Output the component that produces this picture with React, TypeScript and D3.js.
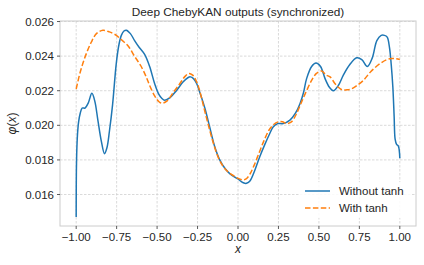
import React from "react";
import * as d3 from "d3";

const title = "Deep ChebyKAN outputs (synchronized)";
const xTicks = [-1.0, -0.75, -0.5, -0.25, 0.0, 0.25, 0.5, 0.75, 1.0];
const yTicks = [0.016, 0.018, 0.02, 0.022, 0.024, 0.026];
const seriesNames = ["Without tanh", "With tanh"];

const blueX = [-1.0, -0.998, -0.993, -0.985, -0.975, -0.963, -0.945, -0.925, -0.903, -0.885, -0.866, -0.845, -0.825, -0.81, -0.794, -0.775, -0.752, -0.735, -0.721, -0.705, -0.69, -0.665, -0.639, -0.61, -0.577, -0.546, -0.515, -0.49, -0.47, -0.453, -0.42, -0.381, -0.34, -0.31, -0.294, -0.275, -0.255, -0.236, -0.205, -0.175, -0.145, -0.113, -0.08, -0.051, -0.02, 0.0, 0.02, 0.042, 0.053, 0.075, 0.104, 0.135, 0.166, 0.195, 0.217, 0.245, 0.279, 0.321, 0.355, 0.383, 0.405, 0.424, 0.455, 0.482, 0.51, 0.538, 0.565, 0.589, 0.62, 0.651, 0.69, 0.734, 0.765, 0.799, 0.83, 0.858, 0.885, 0.905, 0.922, 0.936, 0.947, 0.957, 0.965, 0.971, 0.98, 0.991, 1.0];
const blueY = [0.0147, 0.0178, 0.0193, 0.0202, 0.0207, 0.021, 0.021, 0.0213, 0.02185, 0.0214, 0.0203, 0.0191, 0.01836, 0.0187, 0.0197, 0.0212, 0.0236, 0.0247, 0.0252, 0.02545, 0.0255, 0.0253, 0.0249, 0.0245, 0.0241, 0.0234, 0.0224, 0.0218, 0.02155, 0.02145, 0.0216, 0.022, 0.0225, 0.02275, 0.0228, 0.0227, 0.0224, 0.0219, 0.021, 0.0199, 0.0188, 0.018, 0.0175, 0.01721, 0.017, 0.0169, 0.01675, 0.01665, 0.01665, 0.0168, 0.0174, 0.0182, 0.0189, 0.0195, 0.0199, 0.0201, 0.0201, 0.0203, 0.0207, 0.02125, 0.0219, 0.0227, 0.0234, 0.0236, 0.0234, 0.0227, 0.0222, 0.022, 0.0223, 0.0229, 0.0235, 0.0239, 0.0238, 0.0234, 0.0239, 0.0249, 0.0252, 0.0252, 0.0251, 0.0245, 0.0235, 0.0222, 0.0205, 0.0192, 0.0189, 0.0188, 0.0181];

const orangeX = [-1.0, -0.98, -0.959, -0.935, -0.907, -0.875, -0.835, -0.795, -0.752, -0.715, -0.68, -0.64, -0.598, -0.565, -0.546, -0.515, -0.49, -0.47, -0.44, -0.4, -0.36, -0.33, -0.303, -0.28, -0.26, -0.24, -0.21, -0.18, -0.15, -0.12, -0.09, -0.06, -0.03, 0.0, 0.03, 0.05, 0.075, 0.1, 0.13, 0.16, 0.19, 0.215, 0.248, 0.275, 0.3, 0.33, 0.362, 0.395, 0.424, 0.455, 0.485, 0.517, 0.545, 0.569, 0.6, 0.62, 0.645, 0.672, 0.7, 0.735, 0.775, 0.82, 0.878, 0.92, 0.95, 0.975, 1.0];
const orangeY = [0.0221, 0.0229, 0.02357, 0.0242, 0.0248, 0.0253, 0.02549, 0.0254, 0.0252, 0.0249, 0.0246, 0.024, 0.0234, 0.02275, 0.0223, 0.0217, 0.02138, 0.02128, 0.0214, 0.0219, 0.0224, 0.0228, 0.023, 0.0229, 0.0226, 0.0221, 0.021, 0.0199, 0.0189, 0.0181, 0.0176, 0.0173, 0.0171, 0.01693, 0.01685, 0.0169, 0.0172, 0.0177, 0.0184, 0.0191, 0.0197, 0.02, 0.0202, 0.0202, 0.0201, 0.0202, 0.02068, 0.0214, 0.022, 0.0226, 0.023, 0.02314, 0.0229, 0.0228, 0.0224, 0.0222, 0.02205, 0.02205, 0.0221, 0.0223, 0.0226, 0.0231, 0.02357, 0.0238, 0.02386, 0.02385, 0.0238];

const W = 424, H = 265;
const L = 60, R = 416, T = 21, B = 226;
const FONT = "'Liberation Sans', Arial, sans-serif";
const TXT = "#262626";

export default function App() {
  const x = d3.scaleLinear().domain([-1.1, 1.1]).range([L, R]);
  const y = d3.scaleLinear().domain([0.01418, 0.02603]).range([B, T]);
  const line = d3.line<[number, number]>().x(d => x(d[0])).y(d => y(d[1])).curve(d3.curveCatmullRom.alpha(0.5));
  const blue = blueX.map((v, i) => [v, blueY[i]] as [number, number]);
  const orange = orangeX.map((v, i) => [v, orangeY[i]] as [number, number]);
  const fmtX = (v: number) => (v < 0 ? "\u2212" : "") + Math.abs(v).toFixed(2);
  return (
    <svg width={W} height={H} style={{ display: "block", position: "absolute", left: 0, top: 0 }} fontFamily={FONT}>
      <rect x={0} y={0} width={W} height={H} fill="#fff" />
      <defs>
        <clipPath id="plotclip"><rect x={L} y={T} width={R - L} height={B - T} /></clipPath>
      </defs>
      {xTicks.map(t => (
        <line key={"gx" + t} x1={x(t)} x2={x(t)} y1={T} y2={B} stroke="#d0d0d0" strokeWidth={0.8} strokeDasharray="2.5,1.5" />
      ))}
      {yTicks.map(t => (
        <line key={"gy" + t} x1={L} x2={R} y1={y(t)} y2={y(t)} stroke="#d0d0d0" strokeWidth={0.8} strokeDasharray="2.5,1.5" />
      ))}
      <g clipPath="url(#plotclip)">
        <path d={line(blue) || ""} fill="none" stroke="#1f77b4" strokeWidth={1.5} />
        <path d={line(orange) || ""} fill="none" stroke="#ff7f0e" strokeWidth={1.5} strokeDasharray="5.5,2.4" />
      </g>
      <rect x={L} y={T} width={R - L} height={B - T} fill="none" stroke="#cccccc" strokeWidth={1} />
      {xTicks.map(t => (
        <g key={"tx" + t}>
          <line x1={x(t)} x2={x(t)} y1={B} y2={B + 3} stroke="#333" strokeWidth={0.8} />
          <text x={x(t)} y={B + 15} textAnchor="middle" fontSize={11.5} fill={TXT}>{fmtX(t)}</text>
        </g>
      ))}
      {yTicks.map(t => (
        <g key={"ty" + t}>
          <line x1={L - 3} x2={L} y1={y(t)} y2={y(t)} stroke="#333" strokeWidth={0.8} />
          <text x={L - 6} y={y(t) + 4} textAnchor="end" fontSize={11.5} fill={TXT}>{t.toFixed(3)}</text>
        </g>
      ))}
      <text x={(L + R) / 2} y={16} textAnchor="middle" fontSize={11.8} fill={TXT}>{title}</text>
      <text x={(L + R) / 2} y={253} textAnchor="middle" fontSize={12} fontStyle="italic" fill={TXT}>x</text>
      <text transform={`translate(16, ${(T + B) / 2}) rotate(-90)`} textAnchor="middle" fontSize={12} fill={TXT}>
        <tspan fontStyle="italic">φ</tspan>(<tspan fontStyle="italic">x</tspan>)
      </text>
      <g>
        <rect x={300} y={182} width={112} height={36} fill="#fff" opacity={0.85} />
        <line x1={305} x2={330} y1={191} y2={191} stroke="#1f77b4" strokeWidth={1.5} />
        <text x={339} y={195} fontSize={11.5} fill={TXT}>{seriesNames[0]}</text>
        <line x1={305} x2={330} y1={208} y2={208} stroke="#ff7f0e" strokeWidth={1.5} strokeDasharray="5.5,2.4" />
        <text x={339} y={212} fontSize={11.5} fill={TXT}>{seriesNames[1]}</text>
      </g>
    </svg>
  );
}
